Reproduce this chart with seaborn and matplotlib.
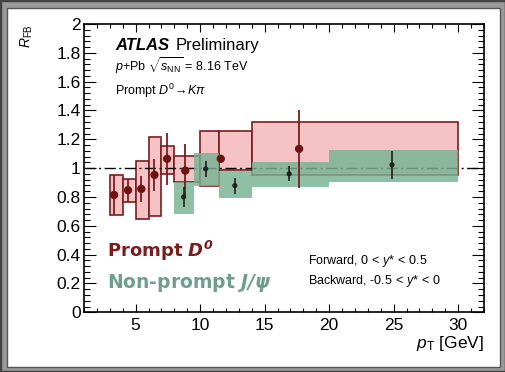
import matplotlib
matplotlib.use("Agg")
import matplotlib.pyplot as plt
import matplotlib.patches as mpatches
from matplotlib.ticker import MultipleLocator, FuncFormatter
import numpy as np
import pandas as pd
import seaborn as sns

# Prompt D0: systematic boxes (bin edges, lower/upper band) and points with stat errors
d0_bin_lo = [3, 4, 5, 6, 7, 8, 10, 11.5, 14]
d0_bin_hi = [4, 5, 6, 7, 8, 10, 11.5, 14, 30]
d0_sys_lo = [0.674, 0.768, 0.648, 0.671, 0.960, 0.907, 0.877, 0.990, 0.953]
d0_sys_hi = [0.953, 0.926, 1.051, 1.215, 1.155, 1.087, 1.260, 1.255, 1.317]
d0_pt = [3.33, 4.41, 5.44, 6.46, 7.44, 8.85, 11.6, 17.67]
d0_rfb = [0.814, 0.847, 0.856, 0.953, 1.065, 0.983, 1.065, 1.134]
d0_stat = [0.140, 0.080, 0.090, 0.110, 0.180, 0.186, 0.020, 0.272]

# Non-prompt J/psi
jpsi_bin_lo = [8, 9.5, 11.5, 14, 20]
jpsi_bin_hi = [9.5, 11.5, 14, 20, 30]
jpsi_sys_lo = [0.683, 0.877, 0.790, 0.867, 0.905]
jpsi_sys_hi = [0.907, 1.104, 0.977, 1.046, 1.127]
jpsi_pt = [8.72, 10.43, 12.69, 16.9, 24.87]
jpsi_rfb = [0.800, 0.995, 0.879, 0.960, 1.023]
jpsi_stat = [0.070, 0.058, 0.055, 0.052, 0.095]

y_ticks = [0, 0.2, 0.4, 0.6, 0.8, 1.0, 1.2, 1.4, 1.6, 1.8, 2.0]
x_ticks = [5, 10, 15, 20, 25, 30]

red_edge = "#7b1d1d"
red_fill = "#f5c3c5"
red_mark = "#6e1212"
green_fill = "#76b292"
green_text = "#6f9f8a"

sns.set_theme(style="ticks")
plt.rcParams["font.family"] = ["Liberation Sans", "DejaVu Sans"]
plt.rcParams["mathtext.fontset"] = "custom"
plt.rcParams["mathtext.rm"] = "Liberation Sans"
plt.rcParams["mathtext.it"] = "Liberation Sans:italic"
plt.rcParams["mathtext.bf"] = "DejaVu Sans:italic:bold"

W, H = 506, 372
fig = plt.figure(figsize=(W / 100, H / 100), dpi=100, facecolor="#9a9a9a")
fig.patches.append(mpatches.Rectangle((0, 0), 1, 1, transform=fig.transFigure,
                                      facecolor="none", edgecolor="#444444", lw=2.5,
                                      zorder=-2))
fig.patches.append(mpatches.Rectangle((7 / W, 1 - 367 / H), 493 / W, 359 / H,
                                      transform=fig.transFigure, facecolor="white",
                                      edgecolor="#555555", lw=1.0, zorder=-1))

ax = fig.add_axes([84 / W, 1 - 312.3 / H, 400 / W, 288.3 / H])
ax.set_facecolor("none")

# D0 systematic boxes
d0_lo = np.array(d0_bin_lo)
d0_hi = np.array(d0_bin_hi)
ax.bar(d0_lo, np.array(d0_sys_hi) - np.array(d0_sys_lo), width=d0_hi - d0_lo,
       bottom=d0_sys_lo, align="edge", color=red_fill, edgecolor=red_edge,
       linewidth=1.2, zorder=2)

# reference line at unity
ax.axhline(1.0, color="black", lw=1.0, ls=(0, (8, 2.5, 1.5, 2.5)), zorder=3)

# J/psi systematic boxes
j_lo = np.array(jpsi_bin_lo)
j_hi = np.array(jpsi_bin_hi)
ax.bar(j_lo, np.array(jpsi_sys_hi) - np.array(jpsi_sys_lo), width=j_hi - j_lo,
       bottom=jpsi_sys_lo, align="edge", color=green_fill, alpha=0.82,
       edgecolor="none", linewidth=0, zorder=4)

# statistical error bars
ax.errorbar(d0_pt, d0_rfb, yerr=d0_stat, fmt="none", ecolor=red_edge,
            elinewidth=1.3, capsize=0, zorder=5)
ax.errorbar(jpsi_pt, jpsi_rfb, yerr=jpsi_stat, fmt="none", ecolor="#222222",
            elinewidth=1.2, capsize=0, zorder=5)

d0_df = pd.DataFrame({"pt": d0_pt, "rfb": d0_rfb})
jpsi_df = pd.DataFrame({"pt": jpsi_pt, "rfb": jpsi_rfb})
sns.scatterplot(data=d0_df, x="pt", y="rfb", ax=ax, color=red_mark, s=36,
                edgecolor="none", zorder=6, legend=False)
sns.scatterplot(data=jpsi_df, x="pt", y="rfb", ax=ax, color="#222222", s=14,
                edgecolor="none", zorder=6, legend=False)

# axes
ax.set_xlim(1, 32)
ax.set_ylim(0, 2)
ax.set_xticks(x_ticks)
ax.set_yticks(y_ticks)
ax.xaxis.set_minor_locator(MultipleLocator(1))
ax.yaxis.set_minor_locator(MultipleLocator(0.04))
ax.yaxis.set_major_formatter(FuncFormatter(lambda v, p: f"{v:g}"))
ax.tick_params(axis="both", which="both", direction="in", top=True, right=True,
               color="black", width=0.8, labelsize=12.5, labelcolor="black")
ax.tick_params(axis="x", which="major", length=6.1, pad=4)
ax.tick_params(axis="x", which="minor", length=3.1)
ax.tick_params(axis="y", which="major", length=8.6, pad=2.5)
ax.tick_params(axis="y", which="minor", length=4.3)
for s in ax.spines.values():
    s.set_visible(True)
    s.set_color("black")
    s.set_linewidth(1.2)

ax.set_xlabel(r"$p_{\rm T}$ [GeV]", fontsize=12.5, loc="right", color="black")
ax.xaxis.set_label_coords(1.0, -0.075)
ax.set_ylabel(r"$R_{\rm FB}$", fontsize=10, loc="top", color="black")
ax.yaxis.label.set_verticalalignment("center")
ax.yaxis.set_label_coords(-0.1425, 1.0)

# annotations
tx = ax.transAxes
ax.text(0.0775, 0.911, "ATLAS", transform=tx, fontsize=12, fontweight="bold",
        fontstyle="italic", va="baseline", color="black")
ax.text(0.2290, 0.911, "Preliminary", transform=tx, fontsize=12,
        va="baseline", color="black")
ax.text(0.0775, 0.838, r"$p$+Pb $\sqrt{s_{\rm NN}}$ = 8.16 TeV", transform=tx,
        fontsize=9, va="baseline", color="black")
ax.text(0.0775, 0.752, r"Prompt $D^{0}\!\rightarrow\!K\pi$", transform=tx,
        fontsize=9, va="baseline", color="black")

ax.text(0.0575, 0.193, r"Prompt $\mathbf{D^{0}}$", transform=tx, fontsize=13,
        fontweight="bold", family=["DejaVu Sans"], va="baseline", color=red_edge)
ax.text(0.0575, 0.083, r"Non-prompt $\mathbf{J/\psi}$", transform=tx, fontsize=13.5,
        fontweight="bold", family=["DejaVu Sans"], va="baseline", color=green_text)

ax.text(0.56, 0.1667, r"Forward, 0$\,<\,y$*$\,<\,$0.5", transform=tx, fontsize=9,
        va="baseline", color="black")
ax.text(0.56, 0.0972, r"Backward, -0.5$\,<\,y$*$\,<\,$0", transform=tx, fontsize=9,
        va="baseline", color="black")

fig.savefig("out.png", dpi=100, facecolor=fig.get_facecolor())
